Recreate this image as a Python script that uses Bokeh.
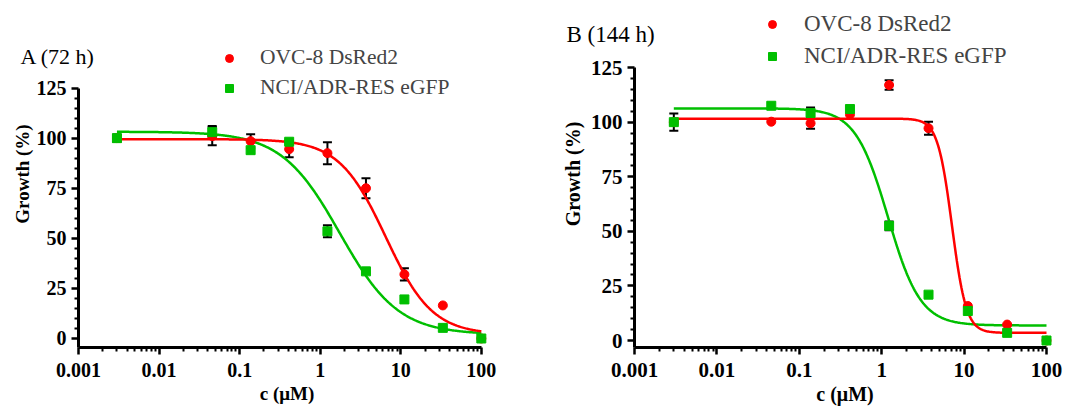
import numpy as np
from bokeh.plotting import figure
from bokeh.layouts import row
from bokeh.models import (Range1d, FixedTicker, CustomJSTickFormatter, Whisker, TeeHead,
                          ColumnDataSource, Legend, LegendItem, Title)
from bokeh.embed import file_html
from bokeh.resources import INLINE

# ---------------- data ----------------
conc = [0.003, 0.0457, 0.137, 0.412, 1.23, 3.70, 11.1, 33.3, 100.0]

series_names = ["OVC-8 DsRed2", "NCI/ADR-RES eGFP"]
panel_titles = ["A (72 h)", "B (144 h)"]

a_ovc = [100.0, 101.0, 98.5, 94.5, 92.5, 75.0, 32.0, 16.5, 0.0]
a_ovc_err = [1.5, 4.5, 3.5, 4.0, 5.5, 5.0, 3.0, 0.0, 0.0]
a_nci = [100.0, 103.0, 94.0, 98.2, 53.5, 33.5, 19.5, 5.3, 0.0]
a_nci_err = [1.8, 3.0, 0.0, 1.0, 3.0, 0.0, 0.0, 0.0, 0.0]

b_ovc = [100.0, 100.2, 99.5, 103.5, 117.0, 97.2, 15.8, 7.3, 0.0]
b_ovc_err = [1.0, 0.0, 2.5, 0.0, 2.2, 3.0, 0.0, 0.0, 0.0]
b_nci = [100.0, 107.5, 104.2, 106.0, 52.5, 21.0, 13.5, 3.5, 0.0]
b_nci_err = [4.0, 0.0, 2.5, 0.0, 2.0, 0.0, 0.0, 0.0, 0.0]

# fitted 4-parameter logistic curves: (top, bottom, IC50, Hill slope)
a_ovc_fit = (99.5, 2.0, 6.5, 1.5)
a_nci_fit = (103.2, 2.0, 1.75, 1.2)
b_ovc_fit = (101.6, 3.5, 7.13, 5.0)
b_nci_fit = (106.3, 6.9, 1.19, 2.2)

x_ticks = [0.001, 0.01, 0.1, 1, 10, 100]
x_tick_labels = ["0.001", "0.01", "0.1", "1", "10", "100"]
y_ticks = [0, 25, 50, 75, 100, 125]

x_label = "c (\u03bcM)"
y_label = "Growth (%)"

RED = "#FF0000"
GREEN = "#00BF00"
FONT = "Liberation Serif"


def logistic(x, fit):
    top, bottom, ic50, hill = fit
    return bottom + (top - bottom) / (1.0 + (x / ic50) ** hill)


def make_panel(title, ovc, ovc_err, nci, nci_err, ovc_fit, nci_fit, cfg):
    p = figure(width=cfg["width"], height=cfg["height"], x_axis_type="log",
               x_range=Range1d(0.001, cfg["xend"]), y_range=Range1d(cfg["ystart"], cfg["yend"]),
               output_backend="svg", toolbar_location=None,
               min_border_left=cfg["bl"], min_border_right=cfg["br"],
               min_border_top=0, min_border_bottom=cfg["bb"])
    p.grid.visible = False
    p.outline_line_color = None

    xs = np.logspace(np.log10(conc[0]), np.log10(conc[-1]), 400)
    p.line(xs, logistic(xs, nci_fit), line_color=GREEN, line_width=2.5)
    p.line(xs, logistic(xs, ovc_fit), line_color=RED, line_width=2.5)

    for vals, errs in ((ovc, ovc_err), (nci, nci_err)):
        xx = [c for c, e in zip(conc, errs) if e > 0]
        up = [v + e for v, e in zip(vals, errs) if e > 0]
        lo = [v - e for v, e in zip(vals, errs) if e > 0]
        src = ColumnDataSource(dict(x=xx, upper=up, lower=lo))
        w = Whisker(source=src, base="x", upper="upper", lower="lower",
                    line_color="black", line_width=2,
                    upper_head=TeeHead(size=9, line_width=2, line_color="black"),
                    lower_head=TeeHead(size=9, line_width=2, line_color="black"))
        p.add_layout(w)

    r_ovc = p.scatter(conc, ovc, marker="circle", size=9, fill_color=RED, line_color=RED)
    r_nci = p.scatter(conc, nci, marker="square", size=9, fill_color=GREEN, line_color=GREEN)

    # axes
    xa = p.xaxis[0]
    xa.ticker = FixedTicker(ticks=x_ticks,
                            minor_ticks=[m * t for t in x_ticks[:-1] for m in range(2, 10)])
    xa.formatter = CustomJSTickFormatter(args=dict(tvals=x_ticks, tlabs=x_tick_labels), code="""
        for (let i = 0; i < tvals.length; i++) {
            if (Math.abs(Math.log10(tvals[i]) - Math.log10(tick)) < 1e-6) return tlabs[i];
        }
        return "";
    """)
    xa.bounds = (0.001, 100)
    ya = p.yaxis[0]
    ya.ticker = FixedTicker(ticks=y_ticks, minor_ticks=[v for v in range(0, 126, 5) if v % 25])
    ya.bounds = (cfg["ystart"], 125)
    xa.axis_label = x_label
    ya.axis_label = y_label
    for ax in (xa, ya):
        ax.axis_line_width = 3
        ax.axis_line_color = "black"
        ax.major_tick_line_width = 2.5
        ax.minor_tick_line_width = 2
        ax.major_tick_out = 7
        ax.major_tick_in = 0
        ax.minor_tick_out = 4
        ax.minor_tick_in = 0
        ax.major_label_text_font = FONT
        ax.major_label_text_font_style = "bold"
        ax.major_label_text_font_size = cfg["tick_fs"]
        ax.major_label_text_color = "black"
        ax.axis_label_text_font = FONT
        ax.axis_label_text_font_style = "bold"
        ax.axis_label_text_font_size = cfg["lab_fs"]
        ax.axis_label_text_color = "black"
    xa.major_label_standoff = 8
    xa.axis_label_standoff = 3
    ya.major_label_standoff = cfg["ystand"]
    ya.axis_label_standoff = cfg["ylabstand"]

    leg = Legend(items=[LegendItem(label=series_names[0], renderers=[r_ovc]),
                        LegendItem(label=series_names[1], renderers=[r_nci])],
                 location=cfg["legloc"], orientation="vertical", padding=0, margin=0,
                 spacing=cfg["legspace"], glyph_width=20, glyph_height=cfg["legh"],
                 label_height=cfg["legh"], label_standoff=cfg["legstand"],
                 label_text_font=FONT, label_text_font_size=cfg["leg_fs"],
                 border_line_color=None, background_fill_alpha=0)
    p.add_layout(leg)

    t = Title(text=title, align="left", offset=cfg["toff"], standoff=cfg["tstand"],
              vertical_align="bottom", text_font=FONT, text_font_size=cfg["title_fs"],
              text_font_style="normal", text_color="black")
    p.add_layout(t, "above")
    return p


cfg_a = dict(width=540, height=412, xend=150, ystart=-4.5, yend=168.7,
             bl=78, br=45, bb=65, tick_fs="20px", lab_fs="19px",
             ystand=5, ylabstand=1, legloc=(141, 247), legspace=5, legh=24, legstand=21,
             leg_fs="21.5px", toff=-58, tstand=-136, title_fs="22px")
cfg_b = dict(width=524, height=412, xend=128.6, ystart=-3.2, yend=155.7,
             bl=94, br=9, bb=65, tick_fs="21px", lab_fs="20px",
             ystand=5, ylabstand=4, legloc=(128, 278), legspace=6, legh=26, legstand=22,
             leg_fs="23px", toff=-68, tstand=-92, title_fs="23px")

pa = make_panel(panel_titles[0], a_ovc, a_ovc_err, a_nci, a_nci_err, a_ovc_fit, a_nci_fit, cfg_a)
pb = make_panel(panel_titles[1], b_ovc, b_ovc_err, b_nci, b_nci_err, b_ovc_fit, b_nci_fit, cfg_b)

layout = row(pa, pb)
open("out.html", "w").write(file_html(layout, INLINE))
